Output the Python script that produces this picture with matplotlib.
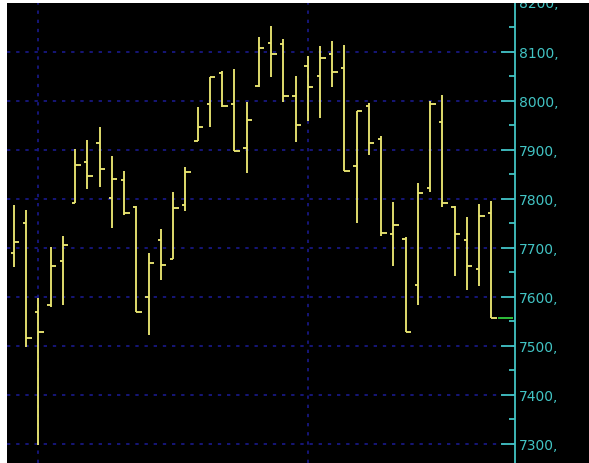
import matplotlib
matplotlib.use("Agg")
import matplotlib.pyplot as plt
from matplotlib.patches import Rectangle
from matplotlib.ticker import FuncFormatter, MultipleLocator
import numpy as np

opens = [7689, 7750, 7569, 7584, 7672, 7791, 7875, 7914, 7802, 7838,
         7784, 7600, 7716, 7676, 7787, 7918, 7993, 8057, 7993, 7903,
         8031, 8118, 8116, 8010, 8071, 8051, 8095, 8067, 7867, 7989,
         7922, 7727, 7718, 7623, 7822, 7957, 7784, 7716, 7657, 7771]
highs = [7787, 7777, 7598, 7702, 7723, 7901, 7920, 7946, 7887, 7857,
         7786, 7689, 7738, 7813, 7865, 7987, 8049, 8061, 8065, 7997,
         8131, 8153, 8126, 8051, 8092, 8111, 8121, 8114, 7979, 7995,
         7927, 7793, 7721, 7833, 8000, 8012, 7786, 7763, 7789, 7795]
lows = [7661, 7498, 7298, 7578, 7584, 7791, 7820, 7824, 7740, 7767,
        7569, 7522, 7635, 7676, 7775, 7918, 7946, 7988, 7898, 7852,
        8027, 8048, 7997, 7915, 7959, 7964, 8027, 7856, 7750, 7889,
        7723, 7663, 7527, 7584, 7814, 7783, 7643, 7614, 7622, 7556]
closes = [7712, 7515, 7527, 7662, 7706, 7869, 7846, 7861, 7841, 7771,
          7569, 7669, 7665, 7782, 7854, 7947, 8049, 7989, 7898, 7961,
          8108, 8095, 8010, 7950, 8027, 8087, 8059, 7856, 7979, 7914,
          7730, 7747, 7527, 7812, 7993, 7792, 7727, 7662, 7765, 7556]
y_ticks = [7300, 7400, 7500, 7600, 7700, 7800, 7900, 8000, 8100]
vgrid_idx = [2, 24]

W, H = 589, 464
fig = plt.figure(figsize=(W / 100, H / 100), dpi=100, facecolor="black")
ax = fig.add_axes([7 / W, 0, (515 - 7) / W, 460 / H])
ax.set_facecolor("black")

x = np.arange(len(opens))
bar_col = "#e8e470"
lw = 1.35
ax.vlines(x, lows, highs, color=bar_col, lw=lw, zorder=3)
ax.hlines(opens, x - 0.27, x, color=bar_col, lw=lw, zorder=3)
ax.hlines(closes, x, x + 0.45, color=bar_col, lw=lw, zorder=3)

xmin, xmax = -0.57, 40.93
ax.set_xlim(xmin, xmax)
ax.set_ylim(7260.6, 8199.4)

# last price line
ax.hlines(closes[-1], x[-1] + 0.55, xmax - 0.15, color="#2fbf3a", lw=1.4, zorder=3)

teal = "#42c4c4"
grid_col = "#1a1a8c"
ax.set_yticks(y_ticks)
ax.yaxis.set_minor_locator(MultipleLocator(50))
ax.yaxis.set_major_formatter(FuncFormatter(lambda v, p: f"{v:.0f},"))
ax.yaxis.tick_right()
ax.tick_params(axis="y", which="major", direction="in", length=10, width=1.3,
               color=teal, labelcolor=teal, labelsize=10, pad=3)
ax.tick_params(axis="y", which="minor", direction="in", length=4, width=1.3,
               color=teal)
ax.set_xticks(vgrid_idx)
ax.tick_params(axis="x", length=0, labelbottom=False)

ax.grid(True, which="major", color=grid_col, lw=1.2, linestyle=(0, (2, 3.5)), zorder=1)

for s in ["top", "left", "bottom"]:
    ax.spines[s].set_visible(False)
ax.spines["right"].set_color(teal)
ax.spines["right"].set_linewidth(1.3)

# partially hidden top label
ax.annotate("8200,", xy=(1.0, 8200), xycoords=ax.get_yaxis_transform(),
            xytext=(3, 0), textcoords="offset points", color=teal,
            fontsize=10, va="center", ha="left", annotation_clip=False)

# white frame strips
fig.patches.append(Rectangle((0, 1 - 4 / H), 1, 4 / H, transform=fig.transFigure,
                             facecolor="white", edgecolor="none", zorder=10))
fig.patches.append(Rectangle((0, 0), 7 / W, 1, transform=fig.transFigure,
                             facecolor="white", edgecolor="none", zorder=10))

fig.savefig("out.png", dpi=100, facecolor="black")
